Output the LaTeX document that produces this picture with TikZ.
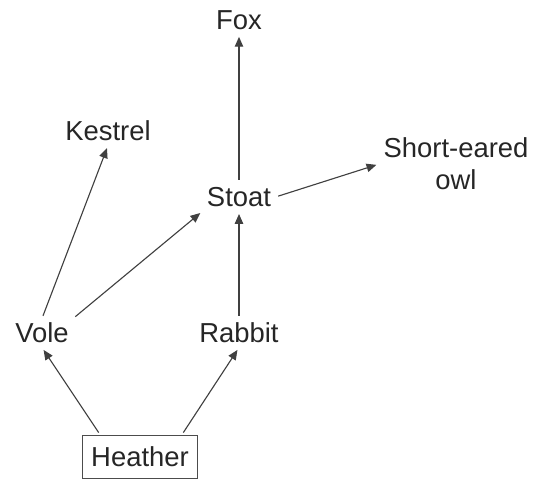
\documentclass[tikz,border=0pt]{standalone}
\usepackage{fontspec}
\setmainfont{Liberation Sans}
\usetikzlibrary{arrows.meta}

\begin{document}
\begin{tikzpicture}[x=0.025cm, y=-0.025cm, >={Triangle[length=7pt, width=6pt]}]
        % ----------- 共用參數 -----------
        \colorlet{link}{black!75}
        \colorlet{label}{black!85}
        \tikzset{
            animal/.style={text=label, inner sep=3pt, font=\fontsize{19.5}{23}\selectfont},
            plant/.style={animal, draw=black!70, thick, inner xsep=6pt, minimum height=43*0.025cm},
            feeds/.style={->, link, thick, shorten >=2pt, shorten <=2pt}
        }
        \useasboundingbox (0,0) rectangle (534,482);

        % =====================================
        %            生物節點
        % =====================================
        \node[animal] (fox) at (239,20) {Fox};
        \node[animal] (kestrel) at (108,131) {Kestrel};
        \node[animal] (stoat) at (239,197) {Stoat};
        \node[animal, align=center] (owl) at (456,164) {Short-eared\\owl};
        \node[animal] (vole) at (42,333) {Vole};
        \node[animal] (rabbit) at (239,333) {Rabbit};
        \node[plant] (heather) at (140,457) {Heather};

        % =====================================
        %            能量流向
        % =====================================
        \draw[feeds] ([xshift=0.45cm]heather.north west) -- (vole.south);
        \draw[feeds] ([xshift=-0.4cm]heather.north east) -- (rabbit.south);
        \draw[feeds] (vole.north) -- (kestrel.south);
        \draw[feeds] (vole.north east) -- (stoat.south west);
        \draw[feeds] (rabbit) -- (stoat);
        \draw[feeds] (stoat) -- (fox);
        \draw[feeds] (stoat.east) -- (owl.west);

\end{tikzpicture}
\end{document}
